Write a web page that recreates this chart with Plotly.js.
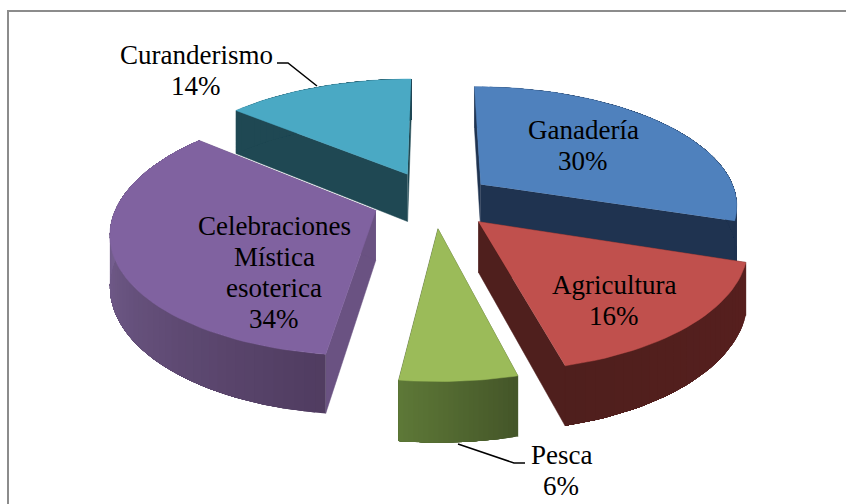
<!DOCTYPE html>
<html>
<head>
<meta charset="utf-8">
<script src="https://cdn.plot.ly/plotly-3.0.1.min.js"></script>
<style>html,body{margin:0;padding:0;background:#fff}#chart{width:846px;height:504px}</style>
</head>
<body>
<div id="chart"></div>
<script>
// ---- data ----
const categories = ['Ganadería', 'Agricultura', 'Pesca', 'Celebraciones<br>Mística<br>esoterica', 'Curanderismo'];
const percents = [30, 16, 6, 34, 14];
const topColors = ['#4f81bd', '#c0504d', '#9bbb59', '#8062a0', '#4aa9c4'];
const radialColors = ['#1f3350', '#4f1f1d', '#435428', '#6a5282', '#1f4853'];
const arcDarkColors = ['#1f3350', '#4f1f1d', '#435428', '#503c60', '#1f4853'];
const arcLightColors = ['#1f3350', '#571f1e', '#5f7a38', '#7a6496', '#1f4853'];

// ---- view model of the tilted, exploded pie ----
const view = {cx: 434, cy: 200, rx: 257, ry: 118, persp: 0.16, depth: 49};
const explode = [0.23, 0.245, 0.235, 0.24, 0.25];
const shadeRange = [[0, 108], [108, 166], [165, 188], [187, 280], [310, 360]];
const drawOrder = [4, 0, 3, 1, 2];
const labelAt = [[583, 145], [614, 300], [561, 470], [274, 272], [196, 70]];
const lineStep = 31;

function project(X, Y, lift) {
  const w = 1 + view.persp * Y;
  return [view.cx + view.rx * X / w, view.cy - view.ry * Y / w + (lift ? view.depth / w : 0)];
}
function hex(c) { return [1, 3, 5].map(i => parseInt(c.substr(i, 2), 16)); }
function mix(a, b, t) {
  const A = hex(a), B = hex(b);
  return 'rgb(' + A.map((v, i) => Math.round(v + (B[i] - v) * t)).join(',') + ')';
}
function face(points, color, stroke) {
  return {
    type: 'scatter', mode: 'lines', fill: 'toself', fillcolor: color,
    x: points.map(p => p[0]), y: points.map(p => p[1]),
    line: {color: color, width: stroke}, hoverinfo: 'skip', showlegend: false
  };
}

const rad = d => d * Math.PI / 180;
const total = percents.reduce((a, b) => a + b, 0);
const starts = [];
percents.reduce((acc, v, i) => { starts[i] = acc; return acc + v; }, 0);

const traces = [];
drawOrder.forEach(i => {
  const a0 = starts[i] / total * 360, a1 = (starts[i] + percents[i]) / total * 360;
  const mid = rad((a0 + a1) / 2);
  const ox = explode[i] * Math.sin(mid), oy = explode[i] * Math.cos(mid);
  const rim = a => [ox + Math.sin(rad(a)), oy + Math.cos(rad(a))];
  const steps = Math.max(24, Math.round((a1 - a0) / 2));
  const angle = k => a0 + (a1 - a0) * k / steps;
  const quad = (P, Q) => [project(P[0], P[1], 0), project(Q[0], Q[1], 0), project(Q[0], Q[1], 1), project(P[0], P[1], 1)];
  const apex = [ox, oy];
  // radial walls
  traces.push(face(quad(apex, rim(a0)), radialColors[i], 0.5));
  traces.push(face(quad(apex, rim(a1)), radialColors[i], 0.5));
  // curved outer wall: each strip reaches the far end, the next one paints over it, so no seams show
  for (let k = 0; k < steps; k++) {
    const a = angle(k), b = angle(k + 1);
    const t = Math.min(1, Math.max(0, ((a + b) / 2 - shadeRange[i][0]) / (shadeRange[i][1] - shadeRange[i][0])));
    const dark2light = i === 1 ? 1 - t : t;
    const band = [];
    for (let m = k; m <= steps; m++) { const r = rim(angle(m)); band.push(project(r[0], r[1], 0)); }
    for (let m = steps; m >= k; m--) { const r = rim(angle(m)); band.push(project(r[0], r[1], 1)); }
    traces.push(face(band, mix(arcDarkColors[i], arcLightColors[i], dark2light), 0));
  }
  // top face
  const top = [project(apex[0], apex[1], 0)];
  for (let k = 0; k <= steps; k++) { const r = rim(angle(k)); top.push(project(r[0], r[1], 0)); }
  traces.push(face(top, topColors[i], 0.5));
});

const serif = {family: '"Liberation Serif", serif', size: 27, color: '#000'};
const annotations = [];
categories.forEach((c, i) => {
  const lines = c.split('<br>').concat(percents[i] + '%');
  lines.forEach((text, n) => annotations.push({
    x: labelAt[i][0], y: labelAt[i][1] + (n - (lines.length - 1) / 2) * lineStep,
    xref: 'x', yref: 'y', showarrow: false, text: text,
    align: 'center', xanchor: 'center', yanchor: 'middle', font: serif
  }));
});

const leader = d => ({type: 'path', path: d, xref: 'x', yref: 'y', line: {color: '#000', width: 1.5}});
const layout = {
  width: 846, height: 504, margin: {l: 0, r: 0, t: 0, b: 0},
  paper_bgcolor: '#fff', plot_bgcolor: '#fff', showlegend: false, hovermode: false,
  xaxis: {range: [0, 846], visible: false, fixedrange: true},
  yaxis: {range: [504, 0], visible: false, fixedrange: true},
  annotations: annotations,
  shapes: [
    {type: 'path', path: 'M 8 504 L 8 11 L 846 11', xref: 'x', yref: 'y', line: {color: '#8c8c8c', width: 2}},
    leader('M 277 63 L 288 63 L 317 86'),
    leader('M 525 463 L 514 463 L 458 444')
  ]
};
Plotly.newPlot('chart', traces, layout, {displayModeBar: false, staticPlot: true});
</script>
</body>
</html>
